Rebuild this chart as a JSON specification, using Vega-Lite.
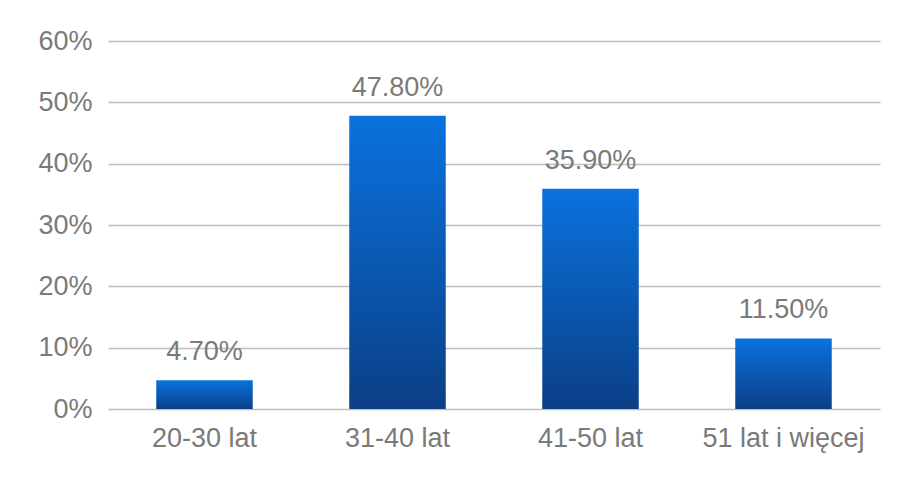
{
  "$schema": "https://vega.github.io/schema/vega-lite/v6.json",
  "width": 772,
  "height": 368,
  "autosize": "none",
  "padding": {"left": 108, "top": 41, "right": 18, "bottom": 68},
  "background": "white",
  "config": {"view": {"stroke": null}, "font": "Liberation Sans"},
  "data": {"values": [
    {"grupa": "20-30 lat", "udzial": 0.047, "etykieta": "4.70%"},
    {"grupa": "31-40 lat", "udzial": 0.478, "etykieta": "47.80%"},
    {"grupa": "41-50 lat", "udzial": 0.359, "etykieta": "35.90%"},
    {"grupa": "51 lat i więcej", "udzial": 0.115, "etykieta": "11.50%"}
  ]},
  "encoding": {
    "x": {"field": "grupa", "type": "nominal", "sort": null,
      "scale": {"paddingInner": 0.5, "paddingOuter": 0.25},
      "axis": {"title": null, "labelAngle": 0, "domain": false, "ticks": false,
        "labelFontSize": 27, "labelColor": "#7a7a7a", "labelPadding": 16, "labelFont": "Liberation Sans"}},
    "y": {"field": "udzial", "type": "quantitative",
      "scale": {"domain": [0, 0.6]},
      "axis": {"title": null, "format": ".0%", "values": [0, 0.1, 0.2, 0.3, 0.4, 0.5, 0.6],
        "domain": false, "ticks": false, "labelFontSize": 27, "labelColor": "#7a7a7a",
        "labelPadding": 16, "gridColor": "#bdbdbd", "gridWidth": 1.5, "labelFont": "Liberation Sans"}}
  },
  "layer": [
    {"mark": {"type": "bar",
      "color": {"gradient": "linear", "x1": 0, "y1": 0, "x2": 0, "y2": 1,
        "stops": [{"offset": 0, "color": "#0a72de"}, {"offset": 1, "color": "#0b3f86"}]}}},
    {"mark": {"type": "text", "baseline": "alphabetic", "dy": -20, "fontSize": 27, "color": "#7a7a7a", "font": "Liberation Sans"},
     "encoding": {"text": {"field": "etykieta"}}}
  ]
}
